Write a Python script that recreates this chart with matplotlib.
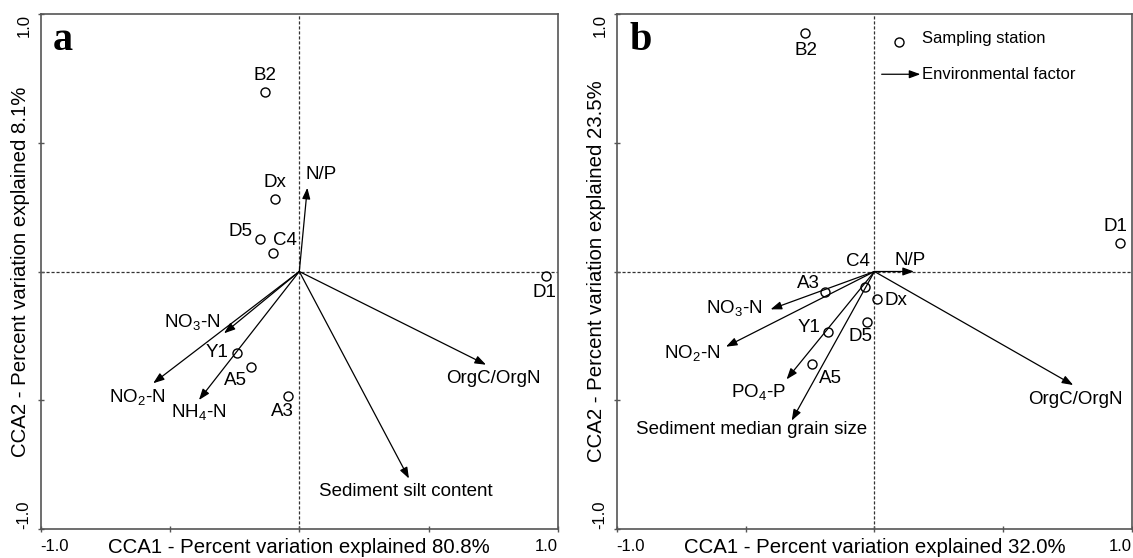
import matplotlib
matplotlib.use("Agg")
import matplotlib.pyplot as plt

plt.rcParams['font.family'] = ['Liberation Sans', 'DejaVu Sans']
plt.rcParams['mathtext.fontset'] = 'custom'
plt.rcParams['mathtext.rm'] = 'Liberation Sans'
plt.rcParams['mathtext.it'] = 'Liberation Sans:italic'

# --- panel a: sampling stations (CCA1, CCA2)
stations_a = ["B2", "Dx", "D5", "C4", "D1", "Y1", "A5", "A3"]
sta_a_x = [-0.131, -0.093, -0.151, -0.100, 0.954, -0.242, -0.188, -0.043]
sta_a_y = [0.699, 0.282, 0.128, 0.070, -0.018, -0.315, -0.370, -0.483]

# --- panel a: environmental factors (arrow tips)
factors_a = ["N/P", "NO$_3$-N", "NO$_2$-N", "NH$_4$-N", "OrgC/OrgN", "Sediment silt content"]
fac_a_x = [0.031, -0.291, -0.565, -0.388, 0.722, 0.424]
fac_a_y = [0.325, -0.240, -0.434, -0.499, -0.362, -0.804]

# --- panel b: sampling stations
stations_b = ["B2", "D1", "A3", "C4", "Dx", "D5", "Y1", "A5"]
sta_b_x = [-0.271, 0.953, -0.192, -0.037, 0.011, -0.028, -0.179, -0.241]
sta_b_y = [0.926, 0.110, -0.081, -0.059, -0.107, -0.195, -0.234, -0.359]

# --- panel b: environmental factors
factors_b = ["N/P", "NO$_3$-N", "NO$_2$-N", "PO$_4$-P", "Sediment median grain size", "OrgC/OrgN"]
fac_b_x = [0.153, -0.403, -0.576, -0.341, -0.321, 0.771]
fac_b_y = [0.0, -0.147, -0.292, -0.419, -0.579, -0.441]

# label placement (dx, dy in pixels, horizontal alignment)
off_sta_a = [(0, 16, "center"), (0, 16, "center"), (-7.5, 7, "right"), (0, 12.5, "left"),
             (-1.5, -16, "center"), (-8.4, 0, "right"), (-4, -13.3, "right"), (-5.6, -15.7, "center")]
off_fac_a = [(-1.4, 13.6, "left"), (-4, 11.6, "right"), (11.7, -13.3, "right"),
             (0, -11.7, "center"), (7.5, -13.6, "center"), (-3.6, -12.5, "center")]
off_sta_b = [(1.5, -17.8, "center"), (-4.7, 16.7, "center"), (-5, 9, "right"), (5, 25, "right"),
             (7.7, -1, "left"), (-6.5, -15, "center"), (-7.6, 4, "right"), (7, -14.3, "left")]
off_fac_b = [(-3.7, 11, "center"), (-8, 1, "right"), (-6, -6.7, "right"),
             (-1, -12.3, "right"), (-40, -9.3, "center"), (2.5, -14, "center")]

FS = 12        # ticks, legend
FS_LAB = 13.5  # point / arrow labels
ARROW = dict(arrowstyle="-|>,head_length=0.6,head_width=0.22", mutation_scale=11,
             lw=0.9, color="black", shrinkA=0, shrinkB=0)


def draw_panel(ax, sx, sy, snames, soff, fx, fy, fnames, foff, letter, xlab, ylab):
    ax.set_xlim(-1, 1)
    ax.set_ylim(-1, 1)
    ax.axhline(0, color="#333333", lw=0.9, ls=(0, (2.5, 1.5)), zorder=1)
    ax.axvline(0, color="#333333", lw=0.9, ls=(0, (2.5, 1.5)), zorder=1)

    for x, y in zip(fx, fy):
        ax.annotate("", xy=(x, y), xytext=(0, 0), arrowprops=ARROW, zorder=3)
    for name, x, y, (dx, dy, ha) in zip(fnames, fx, fy, foff):
        ax.annotate(name, (x, y), xytext=(dx, dy), textcoords="offset pixels",
                    ha=ha, va="center", fontsize=FS_LAB)

    ax.plot(sx, sy, "o", ms=6.5, mfc="none", mec="black", mew=1, ls="none", zorder=4)
    for name, x, y, (dx, dy, ha) in zip(snames, sx, sy, soff):
        ax.annotate(name, (x, y), xytext=(dx, dy), textcoords="offset pixels",
                    ha=ha, va="center", fontsize=FS_LAB)

    ticks = [-1, -0.5, 0, 0.5, 1]
    ax.set_xticks(ticks)
    ax.set_xticklabels(["-1.0", "", "", "", "1.0"], fontsize=FS)
    xl = ax.get_xticklabels()
    xl[0].set_ha("left")
    xl[-1].set_ha("right")
    ax.set_yticks(ticks)
    ax.set_yticklabels(["-1.0", "", "", "", "1.0"], fontsize=FS, rotation=90)
    yl = ax.get_yticklabels()
    yl[0].set_va("bottom")
    yl[-1].set_va("top")
    ax.tick_params(axis="x", direction="inout", length=5, width=1, color="#555555", pad=5)
    ax.tick_params(axis="y", direction="inout", length=5, width=1, color="#555555", pad=4)

    for s in ax.spines.values():
        s.set_color("#555555")
        s.set_linewidth(1.2)

    ax.set_xlabel(xlab, fontsize=14.7, va="center")
    ax.xaxis.set_label_coords(0.5, -0.036)
    ax.set_ylabel(ylab, fontsize=14.7, ha="center", va="center")
    ax.yaxis.set_label_coords(-0.039, 0.5)

    ax.text(0.024, 0.930, letter, transform=ax.transAxes, fontsize=29,
            fontweight="bold", family="Liberation Serif", va="baseline")


fig = plt.figure(figsize=(11.33, 5.58), dpi=100)
ax_a = fig.add_axes([40.7 / 1133, 29 / 558, 517.2 / 1133, 515 / 558])
ax_b = fig.add_axes([616.7 / 1133, 29 / 558, 515.5 / 1133, 515 / 558])

draw_panel(ax_a, sta_a_x, sta_a_y, stations_a, off_sta_a, fac_a_x, fac_a_y, factors_a, off_fac_a,
           "a", "CCA1 - Percent variation explained 80.8%", "CCA2 - Percent variation explained 8.1%")
draw_panel(ax_b, sta_b_x, sta_b_y, stations_b, off_sta_b, fac_b_x, fac_b_y, factors_b, off_fac_b,
           "b", "CCA1 - Percent variation explained 32.0%", "CCA2 - Percent variation explained 23.5%")

# legend in panel b
ax_b.plot([0.548], [0.946], "o", ms=6.5, mfc="none", mec="black", mew=1, transform=ax_b.transAxes)
ax_b.text(0.592, 0.952, "Sampling station", transform=ax_b.transAxes, fontsize=FS, va="center")
ax_b.annotate("", xy=(0.589, 0.883), xytext=(0.514, 0.883), xycoords="axes fraction",
              arrowprops=ARROW)
ax_b.text(0.592, 0.883, "Environmental factor", transform=ax_b.transAxes, fontsize=FS, va="center")

fig.savefig("out.png", dpi=100)
